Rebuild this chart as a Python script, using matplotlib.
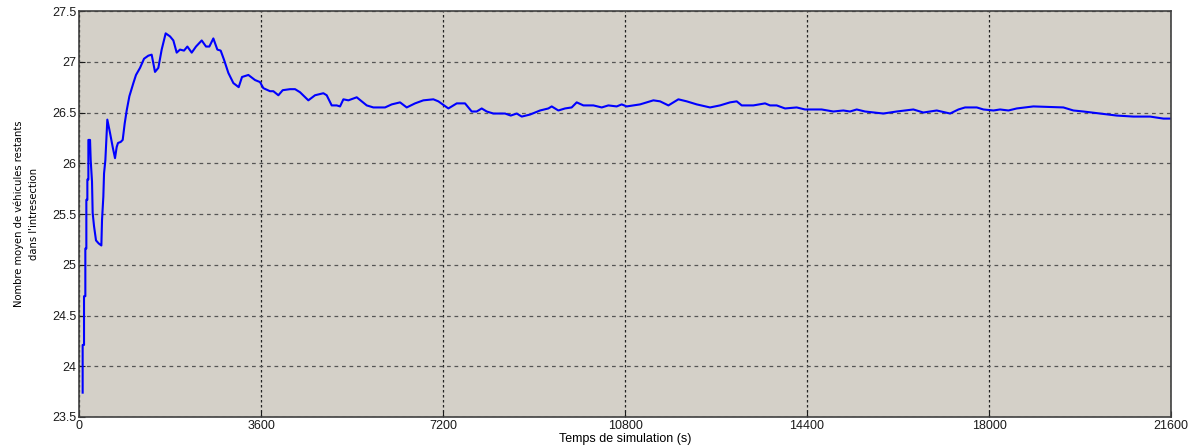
import matplotlib
matplotlib.use("Agg")
import matplotlib.pyplot as plt
from matplotlib import font_manager as fm

# ── Data ─────────────────────────────────────────────────────────────────────
t = [72, 72, 99, 99, 125, 125, 145, 145, 165, 165, 185, 185, 218, 231, 257,
     270, 297, 336, 389, 442, 455, 481, 495, 521, 560, 613, 666, 712, 745, 771,
     824, 864, 903, 943, 996, 1075, 1127, 1207, 1286, 1371, 1437, 1503, 1569,
     1635, 1714, 1800, 1866, 1932, 1998, 2077, 2143, 2229, 2314, 2427, 2512,
     2578, 2657, 2736, 2802, 2868, 2954, 3053, 3158, 3224, 3350, 3481, 3580,
     3646, 3778, 3844, 3943, 4029, 4174, 4273, 4371, 4536, 4668, 4833, 4899,
     4998, 5097, 5163, 5229, 5328, 5493, 5592, 5691, 5822, 6053, 6185, 6350,
     6482, 6646, 6811, 7009, 7108, 7306, 7471, 7635, 7767, 7866, 7965, 8064,
     8196, 8427, 8539, 8658, 8757, 8921, 9119, 9283, 9350, 9481, 9613, 9745,
     9844, 9976, 10174, 10339, 10470, 10635, 10734, 10833, 10965, 11097, 11361,
     11493, 11658, 11855, 12020, 12218, 12481, 12679, 12877, 13009, 13108,
     13339, 13569, 13668, 13800, 13965, 14195, 14360, 14590, 14689, 14920,
     15118, 15250, 15382, 15547, 15909, 16173, 16503, 16700, 16965, 17229,
     17394, 17526, 17757, 17889, 18087, 18218, 18383, 18548, 18877, 19470,
     19668, 19866, 20196, 20526, 20855, 21185, 21449, 21600]
v = [23.74, 24.21, 24.21, 24.69, 24.69, 25.16, 25.16, 25.64, 25.64, 25.84,
     25.84, 26.23, 26.23, 26.03, 25.82, 25.51, 25.38, 25.24, 25.21, 25.19,
     25.44, 25.67, 25.90, 26.03, 26.43, 26.30, 26.16, 26.05, 26.16, 26.20,
     26.21, 26.23, 26.39, 26.52, 26.66, 26.79, 26.87, 26.94, 27.03, 27.06,
     27.07, 26.90, 26.94, 27.12, 27.28, 27.25, 27.21, 27.09, 27.12, 27.11,
     27.15, 27.09, 27.15, 27.21, 27.15, 27.15, 27.23, 27.12, 27.11, 27.02,
     26.89, 26.79, 26.75, 26.85, 26.87, 26.82, 26.80, 26.74, 26.71, 26.71,
     26.67, 26.72, 26.73, 26.73, 26.70, 26.62, 26.67, 26.69, 26.67, 26.57,
     26.57, 26.56, 26.63, 26.62, 26.65, 26.61, 26.57, 26.55, 26.55, 26.58,
     26.60, 26.55, 26.59, 26.62, 26.63, 26.61, 26.54, 26.59, 26.59, 26.51,
     26.51, 26.54, 26.51, 26.49, 26.49, 26.47, 26.49, 26.46, 26.48, 26.52,
     26.54, 26.56, 26.52, 26.54, 26.55, 26.60, 26.57, 26.57, 26.55, 26.57,
     26.56, 26.58, 26.56, 26.57, 26.58, 26.62, 26.61, 26.57, 26.63, 26.61,
     26.58, 26.55, 26.57, 26.60, 26.61, 26.57, 26.57, 26.59, 26.57, 26.57,
     26.54, 26.55, 26.53, 26.53, 26.53, 26.51, 26.52, 26.51, 26.53, 26.51,
     26.49, 26.51, 26.53, 26.50, 26.52, 26.49, 26.53, 26.55, 26.55, 26.53,
     26.52, 26.53, 26.52, 26.54, 26.56, 26.55, 26.52, 26.51, 26.49, 26.47,
     26.46, 26.46, 26.44, 26.44]

x_ticks = [0, 3600, 7200, 10800, 14400, 18000, 21600]
y_ticks = [23.5, 24, 24.5, 25, 25.5, 26, 26.5, 27, 27.5]
y_tick_labels = ["23.5", "24", "24.5", "25", "25.5", "26", "26.5", "27", "27.5"]


def narrow_font():
    # the y label uses a condensed face; pick one if installed
    try:
        fm.findfont(fm.FontProperties(family="Liberation Sans Narrow"),
                    fallback_to_default=False)
        return dict(family="Liberation Sans Narrow", fontsize=9)
    except ValueError:
        pass
    path = fm.findfont(fm.FontProperties(family="DejaVu Sans", stretch="condensed"))
    if "Condensed" in path:
        return dict(family="DejaVu Sans", stretch="condensed", fontsize=8)
    return dict(family="DejaVu Sans", fontsize=6.6)


# ── Figure ───────────────────────────────────────────────────────────────────
plt.rcParams["font.family"] = ["Liberation Sans", "DejaVu Sans"]

fig = plt.figure(figsize=(11.99, 4.48), dpi=100)
ax = fig.add_axes([0.0659, 0.0692, 0.9108, 0.9062])
ax.set_facecolor("#d4d0c8")

ax.plot(t, v, color="#0000ff", linewidth=1.5)

ax.set_xlim(0, 21600)
ax.set_ylim(23.5, 27.5)
ax.set_xticks(x_ticks)
ax.set_xticklabels([str(x) for x in x_ticks])
ax.set_yticks(y_ticks)
ax.set_yticklabels(y_tick_labels)
ax.tick_params(direction="in", length=4, labelsize=9, colors="#1a1a1a",
               pad=2)

ax.xaxis.grid(True, color="#222222", linestyle=(0, (2, 2)), linewidth=0.9)
ax.yaxis.grid(True, color="#555555", linestyle=(0, (3, 3)), linewidth=0.9)

for s in ax.spines.values():
    s.set_color("#404040")
    s.set_linewidth(1.2)

ax.set_xlabel("Temps de simulation (s)", fontsize=9, labelpad=1)
ax.set_ylabel("Nombre moyen de véhicules restants\ndans l'intresection",
              labelpad=9, linespacing=1.7, **narrow_font())

fig.savefig("out.png", dpi=100)
